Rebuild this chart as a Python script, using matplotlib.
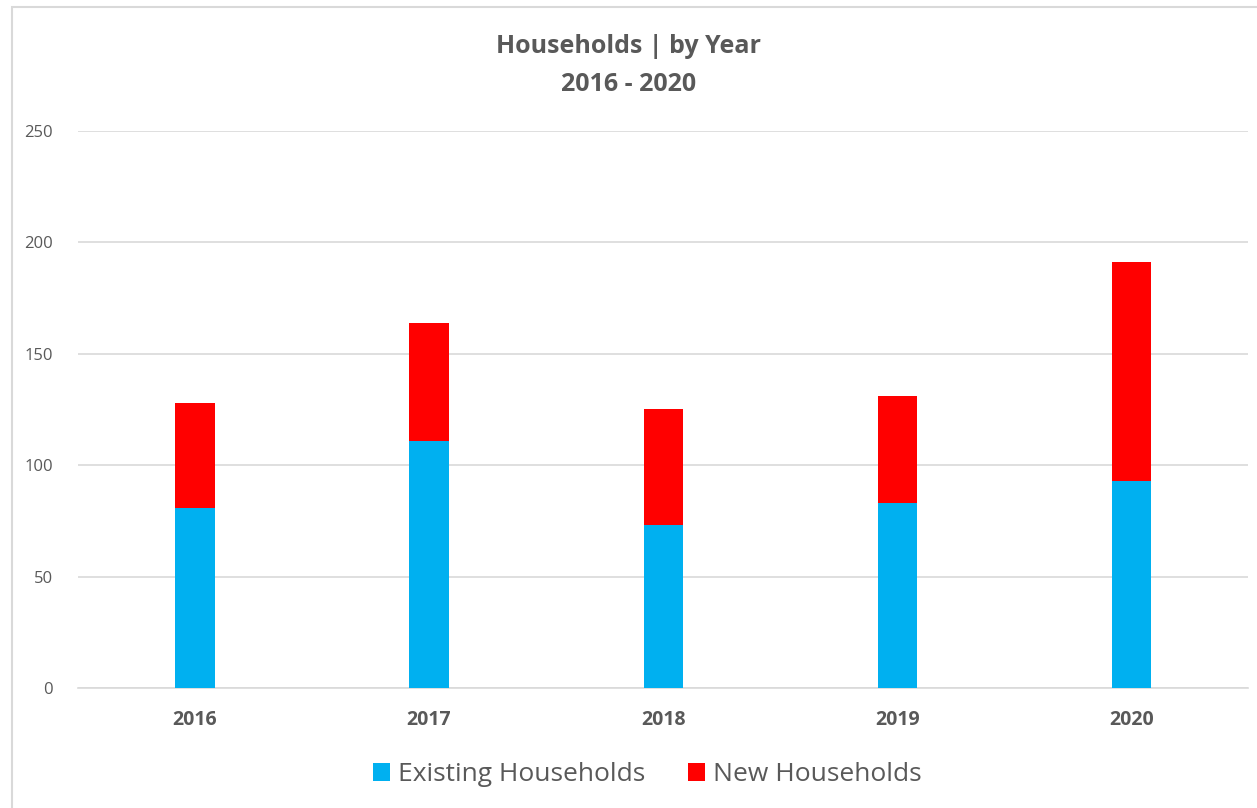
import matplotlib
matplotlib.use("Agg")
import matplotlib.pyplot as plt
from matplotlib.patches import Rectangle

years = ["2016", "2017", "2018", "2019", "2020"]
existing = [81, 111, 73, 83, 93]
new = [47, 53, 52, 48, 98]
yticks = [0, 50, 100, 150, 200, 250]

plt.rcParams['font.family'] = ['Open Sans', 'DejaVu Sans']
gray_txt = '#595959'
grid_c = '#d9d9d9'

fig = plt.figure(figsize=(12.57, 8.08), dpi=100)
fig.patches.append(Rectangle((12/1257, -0.1), 1.2, (808-7)/808 + 0.1, transform=fig.transFigure,
                             fill=False, edgecolor='#d9d9d9', linewidth=1.5, figure=fig))
ax = fig.add_axes([0.062, 0.1485, 0.931, 0.6895])

x = range(len(years))
ax.bar(x, existing, width=0.167, color='#00b0f0', label='Existing Households', zorder=3)
ax.bar(x, new, width=0.167, bottom=existing, color='#ff0000', label='New Households', zorder=3)

ax.set_xlim(-0.5, 4.5)
ax.set_ylim(0, 250)
ax.set_yticks(yticks)
ax.set_xticks(list(x))
ax.set_xticklabels(years, fontweight='bold', fontsize=14, color=gray_txt)
ax.tick_params(axis='y', labelsize=12, labelcolor=gray_txt, length=0, pad=18)
ax.tick_params(axis='x', length=0, pad=16)
ax.grid(axis='y', color=grid_c, linewidth=1.2, zorder=0)
for s in ['top', 'right', 'left']:
    ax.spines[s].set_visible(False)
ax.spines['bottom'].set_color(grid_c)
ax.spines['bottom'].set_linewidth(1.2)

fig.text(0.5, 0.943, "Households | by Year", ha='center', va='center', fontsize=18,
         fontweight='bold', color=gray_txt)
fig.text(0.5, 0.896, "2016 - 2020", ha='center', va='center', fontsize=18,
         fontweight='bold', color=gray_txt)

fig.legend(loc='center', bbox_to_anchor=(0.515, 0.041), ncol=2, frameon=False,
           fontsize=19, handlelength=0.65, handleheight=0.65, handletextpad=0.3,
           columnspacing=1.6, labelcolor=gray_txt)

fig.savefig("out.png", dpi=100, facecolor='white')
